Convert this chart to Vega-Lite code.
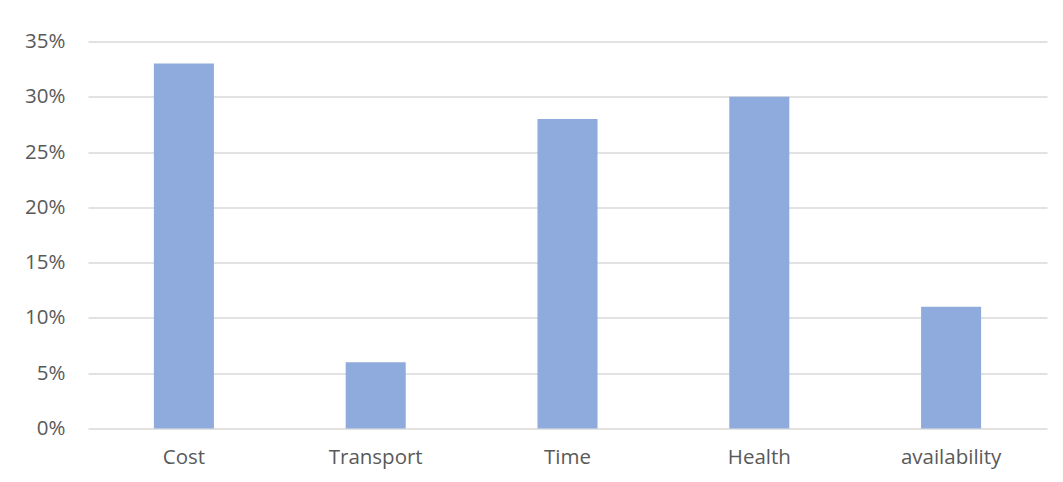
{
  "$schema": "https://vega.github.io/schema/vega-lite/v6.json",
  "autosize": {"type": "none"},
  "width": 959,
  "height": 387,
  "padding": {"left": 88, "top": 41.5, "right": 16, "bottom": 53.5},
  "background": "#ffffff",
  "config": {
    "view": {"stroke": null},
    "font": "Open Sans",
    "axis": {
      "labelFont": "Open Sans",
      "labelFontSize": 20.5,
      "labelColor": "#595959",
      "domain": false,
      "ticks": false
    }
  },
  "data": {
    "values": [
      {"factor": "Cost", "share": 0.33},
      {"factor": "Transport", "share": 0.06},
      {"factor": "Time", "share": 0.28},
      {"factor": "Health", "share": 0.30},
      {"factor": "availability", "share": 0.11}
    ]
  },
  "mark": {"type": "bar", "color": "#8faadc", "width": {"band": 0.313}},
  "encoding": {
    "x": {
      "field": "factor",
      "type": "nominal",
      "sort": null,
      "title": null,
      "scale": {"paddingInner": 0, "paddingOuter": 0},
      "axis": {"labelAngle": 0, "labelPadding": 19, "grid": false}
    },
    "y": {
      "field": "share",
      "type": "quantitative",
      "title": null,
      "scale": {"domain": [0, 0.35], "nice": false},
      "axis": {
        "format": ".0%",
        "values": [0, 0.05, 0.1, 0.15, 0.2, 0.25, 0.3, 0.35],
        "labelPadding": 23,
        "grid": true,
        "gridColor": "#d9d9d9",
        "gridWidth": 1.3
      }
    }
  }
}
